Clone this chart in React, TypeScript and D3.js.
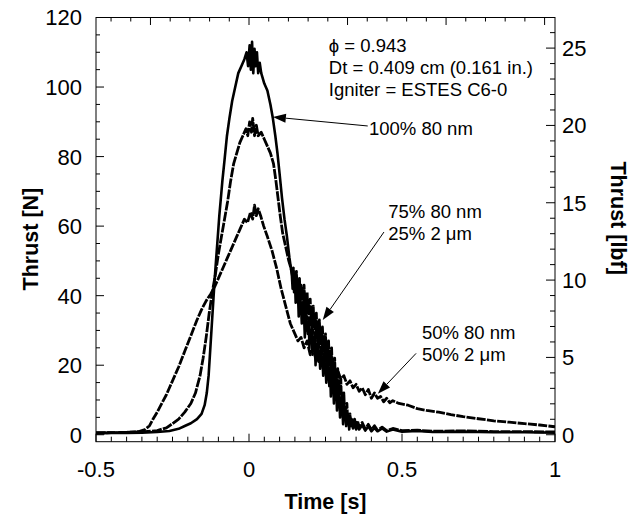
import React from "react";
import * as d3 from "d3";

const WIDTH = 631;
const HEIGHT = 520;
const MARGIN = { top: 17.5, right: 76, bottom: 78.3, left: 96 };
const N_PER_LBF = 4.448;
const TOP_UNIT = 0.322; // spacing of the long ticks on the top frame, in seconds

const TIME_TICKS = [-0.5, 0, 0.5, 1];
const THRUST_N_TICKS = [0, 20, 40, 60, 80, 100, 120];
const THRUST_LBF_TICKS = [0, 5, 10, 15, 20, 25];

// [time s, thrust N]
const thrust100 = [
  [-0.5, 0.4], [-0.45, 0.5], [-0.4, 0.5], [-0.35, 0.6], [-0.3, 0.8], [-0.26, 1.1], [-0.23, 1.7],
  [-0.21, 2.5], [-0.19, 3.3], [-0.17, 4.5], [-0.155, 6], [-0.145, 8.5], [-0.138, 12], [-0.132, 17],
  [-0.127, 24], [-0.122, 31], [-0.117, 38], [-0.112, 45], [-0.107, 51], [-0.102, 57], [-0.097, 63],
  [-0.092, 68], [-0.087, 73], [-0.08, 79], [-0.072, 86], [-0.064, 91], [-0.055, 96], [-0.045, 100],
  [-0.035, 104], [-0.025, 106], [-0.015, 108], [-0.008, 110], [-0.003, 106], [0.002, 112], [0.006, 105],
  [0.01, 113], [0.014, 104], [0.018, 111], [0.022, 106], [0.026, 110], [0.03, 104], [0.035, 107],
  [0.04, 104], [0.05, 101], [0.06, 99], [0.07, 95], [0.078, 91], [0.086, 86], [0.093, 81], [0.1, 75],
  [0.108, 68], [0.116, 62], [0.124, 57], [0.132, 51], [0.14, 46], [0.1425, 42], [0.145, 47],
  [0.1475, 43], [0.15, 45], [0.1525, 38], [0.155, 42], [0.1575, 39], [0.16, 41], [0.1625, 34],
  [0.165, 40], [0.1675, 36], [0.17, 37], [0.1725, 32], [0.175, 38], [0.1775, 33], [0.18, 34],
  [0.1825, 28], [0.185, 35], [0.1875, 30], [0.19, 32], [0.1925, 29], [0.195, 33], [0.1975, 25],
  [0.2, 30], [0.2025, 28], [0.205, 31], [0.2075, 23], [0.21, 28], [0.2125, 26], [0.215, 29],
  [0.2175, 20], [0.22, 26], [0.2225, 24], [0.225, 27], [0.2275, 21], [0.23, 24], [0.2325, 19],
  [0.235, 25], [0.2375, 20], [0.24, 22], [0.2425, 17], [0.245, 23], [0.2475, 18], [0.25, 20],
  [0.2525, 15], [0.255, 21], [0.2575, 16], [0.26, 18], [0.2625, 14], [0.265, 19], [0.2675, 11],
  [0.27, 17], [0.2725, 14], [0.275, 15], [0.2775, 9], [0.28, 16], [0.2825, 12], [0.285, 13],
  [0.2875, 7], [0.29, 12], [0.2925, 10], [0.295, 11], [0.2975, 5], [0.3, 10], [0.3025, 8], [0.305, 8],
  [0.3075, 3], [0.31, 9], [0.3125, 5], [0.315, 6], [0.3175, 2.5], [0.32, 6], [0.3225, 4], [0.325, 4.5],
  [0.3275, 1.5], [0.33, 5], [0.3325, 2.5], [0.335, 3.5], [0.34, 1.8], [0.345, 3.5], [0.35, 1.5],
  [0.355, 3], [0.36, 1.5], [0.37, 2.8], [0.38, 1.2], [0.39, 2.4], [0.4, 1.0], [0.41, 2.0], [0.42, 1.0],
  [0.435, 1.8], [0.45, 0.9], [0.47, 1.5], [0.5, 0.9], [0.55, 1.1], [0.6, 0.8], [0.7, 0.9],
  [0.8, 0.7], [0.9, 0.7], [1.0, 0.6],
];

const thrust75 = [
  [-0.5, 0.6], [-0.45, 0.6], [-0.4, 0.7], [-0.35, 0.8], [-0.3, 1.2], [-0.27, 2], [-0.25, 3.2],
  [-0.23, 4.5], [-0.21, 6.5], [-0.19, 9], [-0.175, 12], [-0.16, 17], [-0.15, 22], [-0.14, 28],
  [-0.13, 35], [-0.12, 41], [-0.11, 46], [-0.1, 52], [-0.09, 57], [-0.08, 62], [-0.07, 67],
  [-0.06, 73], [-0.05, 78], [-0.04, 81], [-0.03, 84], [-0.02, 86], [-0.01, 88], [-0.004, 86],
  [0.002, 90], [0.008, 87], [0.012, 91], [0.018, 86], [0.024, 89], [0.03, 86], [0.04, 87], [0.05, 85],
  [0.06, 83], [0.07, 81], [0.08, 78], [0.088, 73], [0.095, 68], [0.102, 63], [0.11, 58], [0.12, 54],
  [0.13, 50], [0.14, 47], [0.1425, 45], [0.145, 48], [0.1475, 41], [0.15, 46], [0.1525, 43],
  [0.155, 47], [0.1575, 40], [0.16, 44], [0.1625, 41], [0.165, 45], [0.1675, 37], [0.17, 43],
  [0.1725, 39], [0.175, 42], [0.1775, 35], [0.18, 43], [0.1825, 37], [0.185, 40], [0.1875, 33],
  [0.19, 41], [0.1925, 35], [0.195, 38], [0.1975, 31], [0.2, 39], [0.2025, 33], [0.205, 36],
  [0.2075, 29], [0.21, 37], [0.2125, 31], [0.215, 34], [0.2175, 27], [0.22, 35], [0.2225, 29],
  [0.225, 32], [0.2275, 25], [0.23, 33], [0.2325, 27], [0.235, 30], [0.2375, 23], [0.24, 31],
  [0.2425, 25], [0.245, 28], [0.2475, 21], [0.25, 29], [0.2525, 23], [0.255, 26], [0.2575, 19],
  [0.26, 27], [0.2625, 20], [0.265, 24], [0.2675, 17], [0.27, 25], [0.2725, 17], [0.275, 21],
  [0.2775, 14], [0.28, 22], [0.2825, 14], [0.285, 18], [0.2875, 11], [0.29, 19], [0.2925, 11],
  [0.295, 15], [0.2975, 8], [0.3, 16], [0.3025, 9], [0.305, 12], [0.3075, 5], [0.31, 12], [0.3125, 6],
  [0.315, 8], [0.3175, 3.5], [0.32, 9], [0.3225, 4], [0.325, 6], [0.3275, 2.5], [0.33, 6],
  [0.3325, 3], [0.335, 4.5], [0.34, 2.5], [0.345, 4.5], [0.35, 2], [0.355, 4], [0.36, 2],
  [0.37, 3.5], [0.38, 1.6], [0.39, 3.0], [0.4, 1.4], [0.41, 2.6], [0.42, 1.3], [0.435, 2.2],
  [0.45, 1.2], [0.47, 1.8], [0.5, 1.2], [0.55, 1.3], [0.6, 1.0], [0.7, 1.1], [0.8, 0.9], [0.9, 0.9],
  [1.0, 0.8],
];

const thrust50 = [
  [-0.5, 0.5], [-0.45, 0.6], [-0.4, 0.7], [-0.36, 0.9], [-0.34, 1.5], [-0.325, 2.6], [-0.315, 4.3],
  [-0.3, 6.5], [-0.285, 9], [-0.27, 11.5], [-0.25, 15.5], [-0.23, 19.5], [-0.21, 24], [-0.19, 28.5],
  [-0.17, 33], [-0.155, 36], [-0.14, 38.5], [-0.125, 40.5], [-0.11, 43], [-0.09, 47], [-0.07, 51],
  [-0.05, 55], [-0.03, 59], [-0.015, 62], [-0.005, 61], [0.005, 64], [0.012, 62], [0.018, 66],
  [0.024, 63], [0.03, 65], [0.038, 63], [0.048, 60], [0.06, 57], [0.075, 53], [0.09, 48], [0.105, 42],
  [0.12, 37], [0.135, 32], [0.15, 29], [0.16, 27], [0.17, 28], [0.18, 25], [0.19, 27], [0.2, 23],
  [0.21, 25], [0.22, 21], [0.23, 23], [0.24, 20], [0.25, 22], [0.26, 18.5], [0.27, 20], [0.28, 17],
  [0.29, 18.5], [0.3, 16], [0.31, 17], [0.32, 14.5], [0.33, 15.5], [0.34, 13.5], [0.35, 14.5],
  [0.36, 12.5], [0.37, 13.5], [0.38, 11.5], [0.39, 13], [0.4, 10.5], [0.41, 12], [0.42, 10.5],
  [0.43, 11], [0.44, 9.5], [0.45, 10.5], [0.46, 9.2], [0.47, 9.8], [0.49, 9], [0.52, 8.5], [0.55, 7.5],
  [0.58, 7], [0.62, 6.5], [0.66, 5.8], [0.7, 5.2], [0.75, 4.6], [0.8, 4.0], [0.85, 3.6], [0.9, 3.2],
  [0.95, 2.8], [1.0, 2.3],
];

const INFO_LINES = ["\u03D5 = 0.943", "Dt = 0.409 cm (0.161 in.)", "Igniter = ESTES C6-0"];

// label text anchor and arrow (from -> to) in data units
const CALLOUTS = [
  { lines: ["100% 80 nm"], at: [0.392, 86.3], from: [0.388, 88.8], to: [0.078, 91.4] },
  { lines: ["75% 80 nm", "25% 2 \u03BCm"], at: [0.455, 62.3], from: [0.441, 58.3], to: [0.241, 33] },
  { lines: ["50% 80 nm", "50% 2 \u03BCm"], at: [0.565, 27.5], from: [0.546, 23.4], to: [0.421, 11.8] },
];

const FONT = "'Liberation Sans', Arial, Helvetica, sans-serif";

function Arrow({ x1, y1, x2, y2 }) {
  const dx = x2 - x1;
  const dy = y2 - y1;
  const len = Math.hypot(dx, dy);
  const ux = dx / len;
  const uy = dy / len;
  const head = 13;
  const half = 4.5;
  const bx = x2 - ux * head;
  const by = y2 - uy * head;
  const pts = [
    [x2, y2],
    [bx - uy * half, by + ux * half],
    [bx + uy * half, by - ux * half],
  ];
  return (
    <g>
      <line x1={x1} y1={y1} x2={bx} y2={by} stroke="#000" strokeWidth={1} />
      <polygon points={pts.map((p) => p.join(",")).join(" ")} fill="#000" />
    </g>
  );
}

export default function App() {
  const left = MARGIN.left;
  const right = WIDTH - MARGIN.right;
  const top = MARGIN.top;
  const bottom = HEIGHT - MARGIN.bottom;

  const x = d3.scaleLinear().domain([-0.5, 1]).range([left, right]);
  const y = d3.scaleLinear().domain([-2, 120]).range([bottom, top]);
  const yLbf = d3.scaleLinear().domain(y.domain().map((v) => v / N_PER_LBF)).range([bottom, top]);
  const xTop = d3.scaleLinear().domain(x.domain().map((v) => v / TOP_UNIT)).range([left, right]);

  const line = d3
    .line()
    .x((d) => x(d[0]))
    .y((d) => y(d[1]));

  const minorN = d3.range(0, 121, 5).filter((v) => v % 20 !== 0);
  const minorLbf = d3.range(0, 27, 1).filter((v) => v % 5 !== 0);
  const minorT = d3.range(-0.5, 1.0001, 0.05).filter((v) => Math.abs(v * 2 - Math.round(v * 2)) > 1e-6);
  const [tLo, tHi] = xTop.domain();
  const topMajor = d3.range(Math.ceil(tLo), Math.floor(tHi) + 1);
  const topMinor = d3
    .range(Math.ceil(tLo * 5), Math.floor(tHi * 5) + 1)
    .filter((v) => v % 5 !== 0)
    .map((v) => v / 5);

  const tickFont = 22;
  const noteFont = 18.5;

  return (
    <svg
      width={WIDTH}
      height={HEIGHT}
      style={{ position: "absolute", left: 0, top: 0, background: "#fff" }}
      fontFamily={FONT}
    >
      <defs>
        <clipPath id="plot-clip">
          <rect x={left} y={top} width={right - left} height={bottom - top} />
        </clipPath>
      </defs>
      <rect x={0} y={0} width={WIDTH} height={HEIGHT} fill="#fff" />

      {/* traces */}
      <g clipPath="url(#plot-clip)" fill="none" stroke="#000" strokeLinejoin="round">
        <path d={line(thrust50)} strokeWidth={2.8} strokeDasharray="9,1.3" />
        <path d={line(thrust75)} strokeWidth={2.8} strokeDasharray="10,1.2" />
        <path d={line(thrust100)} strokeWidth={2.6} />
      </g>

      {/* frame */}
      <rect x={left} y={top} width={right - left} height={bottom - top} fill="none" stroke="#000" strokeWidth={1} />

      {/* ticks on all four sides */}
      <g stroke="#000" strokeWidth={1}>
        {THRUST_N_TICKS.map((v) => (
          <line key={`ln${v}`} x1={left} x2={left + 8} y1={y(v)} y2={y(v)} />
        ))}
        {minorN.map((v) => (
          <line key={`lm${v}`} x1={left} x2={left + 4} y1={y(v)} y2={y(v)} />
        ))}
        {THRUST_LBF_TICKS.map((v) => (
          <line key={`rn${v}`} x1={right} x2={right - 9} y1={yLbf(v)} y2={yLbf(v)} />
        ))}
        {minorLbf.map((v) => (
          <line key={`rm${v}`} x1={right} x2={right - 5} y1={yLbf(v)} y2={yLbf(v)} />
        ))}
        {TIME_TICKS.map((v) => (
          <line key={`bn${v}`} x1={x(v)} x2={x(v)} y1={bottom} y2={bottom - 8} />
        ))}
        {minorT.map((v) => (
          <line key={`bm${v.toFixed(2)}`} x1={x(v)} x2={x(v)} y1={bottom} y2={bottom - 5} />
        ))}
        {topMajor.map((v) => (
          <line key={`tn${v}`} x1={xTop(v)} x2={xTop(v)} y1={top} y2={top + 7.5} />
        ))}
        {topMinor.map((v) => (
          <line key={`tm${v}`} x1={xTop(v)} x2={xTop(v)} y1={top} y2={top + 4} />
        ))}
      </g>

      {/* tick labels */}
      <g fontSize={tickFont} fill="#000">
        {THRUST_N_TICKS.map((v) => (
          <text key={`lt${v}`} x={left - 14} y={y(v)} dy="0.36em" textAnchor="end">
            {v}
          </text>
        ))}
        {THRUST_LBF_TICKS.map((v) => (
          <text key={`rt${v}`} x={right + 7} y={yLbf(v)} dy="0.36em" textAnchor="start">
            {v}
          </text>
        ))}
        {TIME_TICKS.map((v) => (
          <text key={`bt${v}`} x={x(v)} y={bottom + 35.5} textAnchor="middle">
            {v}
          </text>
        ))}
      </g>

      {/* axis titles */}
      <g fontSize={21.5} fontWeight="bold" fill="#000" textAnchor="middle">
        <text transform={`translate(38, ${(top + bottom) / 2 + 9.5}) rotate(-90)`}>Thrust [N]</text>
        <text transform={`translate(611, ${(top + bottom) / 2 - 11.5}) rotate(90)`}>Thrust [lbf]</text>
        <text x={(left + right) / 2} y={bottom + 67}>Time [s]</text>
      </g>

      {/* conditions */}
      <g fontSize={noteFont} fill="#000">
        {INFO_LINES.map((s, i) => (
          <text key={s} x={x(0.261)} y={y(110.2) + i * 22.3}>
            {s}
          </text>
        ))}
      </g>

      {/* callouts */}
      <g fontSize={noteFont} fill="#000">
        {CALLOUTS.map((c, i) => (
          <g key={i}>
            <Arrow x1={x(c.from[0])} y1={y(c.from[1])} x2={x(c.to[0])} y2={y(c.to[1])} />
            {c.lines.map((s, j) => (
              <text key={s} x={x(c.at[0])} y={y(c.at[1]) + j * 22}>
                {s}
              </text>
            ))}
          </g>
        ))}
      </g>
    </svg>
  );
}
